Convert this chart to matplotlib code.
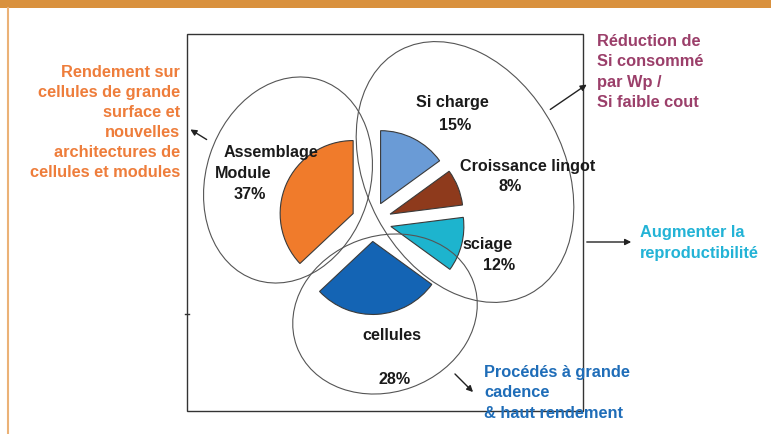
import matplotlib.pyplot as plt
from matplotlib.patches import Ellipse, Rectangle

plt.rcParams['font.family'] = ['Liberation Sans', 'DejaVu Sans']

# parts du cout (ordre horaire depuis le haut)
postes = ['Si charge', 'Croissance lingot', 'sciage', 'cellules', 'Assemblage Module']
parts = [15, 8, 12, 28, 37]
couleurs = ['#6A9BD6', '#8E3A1C', '#1DB4CE', '#1464B4', '#F07B2B']

# libelles dans le dessin (texte, x, y en pixels depuis le haut)
libelles = [('Si charge', 452, 103), ('15%', 455, 125),
            ('Croissance lingot', 528, 166), ('8%', 510, 187),
            ('sciage', 488, 245), ('12%', 499, 266),
            ('Assemblage', 271, 152), ('Module', 243, 173), ('37%', 250, 195),
            ('cellules', 392, 336), ('28%', 395, 380)]

W, H = 771, 435
def Y(y):
    return H - y

fig = plt.figure(figsize=(W / 100, H / 100), dpi=100)
ax = fig.add_axes([0, 0, 1, 1])

# camembert eclate
ax.pie(parts, colors=couleurs, startangle=90, counterclock=False,
       radius=73, center=(371.5, Y(222.5)), explode=[20] * len(parts),
       wedgeprops=dict(edgecolor='#3a3a3a', linewidth=0.8))

ax.set_xlim(0, W)
ax.set_ylim(0, H)
ax.set_aspect('auto')
ax.axis('off')

# bandeau et bord orange
ax.add_patch(Rectangle((0, Y(9)), W, 9, color='#D9913E', lw=0))
ax.plot([7.5, 7.5], [0, Y(9)], color='#EBB277', lw=1.5)

# cadre
ax.add_patch(Rectangle((187, Y(412)), 396, 377, fill=False, edgecolor='#333333', lw=1))
ax.plot([185, 189], [Y(315), Y(315)], color='#333333', lw=1)

# ellipses
ell = dict(fill=False, edgecolor='#555555', lw=0.8)
ax.add_patch(Ellipse((288, Y(181)), 164, 210, angle=-18, **ell))
ax.add_patch(Ellipse((465, Y(173)), 198, 276, angle=28, **ell))
ax.add_patch(Ellipse((385, Y(315)), 188, 156, angle=20, **ell))

for txt, x, y in libelles:
    ax.text(x, Y(y), txt, ha='center', va='center', fontsize=11.6,
            fontweight='bold', color='#1a1a1a')

# fleches
fl = dict(arrowstyle='-|>', color='#222222', lw=1, mutation_scale=9)
ax.annotate('', xy=(188, Y(129)), xytext=(209, Y(142)), arrowprops=fl)
ax.annotate('', xy=(589, Y(84)), xytext=(548, Y(112)), arrowprops=fl)
ax.annotate('', xy=(634, Y(243)), xytext=(584, Y(243)), arrowprops=fl)
ax.annotate('', xy=(475, Y(395)), xytext=(453, Y(373)), arrowprops=fl)

# objectifs
txt_kw = dict(fontsize=11.8, fontweight='bold', linespacing=1.42)
ax.text(180, Y(122.5), 'Rendement sur\ncellules de grande\nsurface et\nnouvelles\narchitectures de\ncellules et modules',
        ha='right', va='center', multialignment='right', color='#EE7D3B', **txt_kw)
ax.text(597, Y(72), 'Réduction de\nSi consommé\npar Wp /\nSi faible cout',
        ha='left', va='center', color='#9B3F6A', **txt_kw)
ax.text(640, Y(243), 'Augmenter la\nreproductibilité', ha='left', va='center',
        color='#23B3D6', **txt_kw)
ax.text(484, Y(393), 'Procédés à grande\ncadence\n& haut rendement', ha='left',
        va='center', color='#1F6DB8', **txt_kw)

fig.savefig('out.png', dpi=100)
